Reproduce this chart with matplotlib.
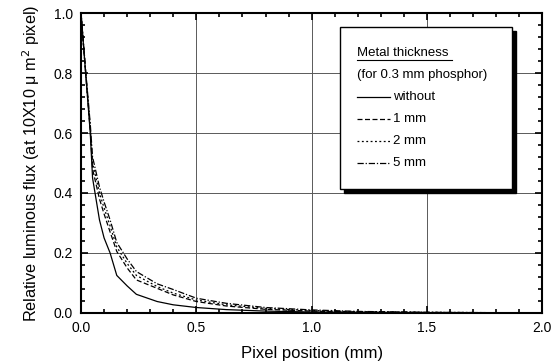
import matplotlib
matplotlib.use('Agg')
import matplotlib.pyplot as plt
from matplotlib.patches import Rectangle
from matplotlib.ticker import MultipleLocator

plt.rcParams['font.family'] = ['Liberation Sans', 'DejaVu Sans']

#----data----
x = [0, 0.02, 0.04, 0.05, 0.08, 0.1, 0.126, 0.155, 0.2, 0.24, 0.33, 0.4, 0.5, 0.63, 0.8, 1.0, 1.2, 1.5, 2.0]
y_without = [1.0, 0.80, 0.60, 0.45, 0.31, 0.25, 0.20, 0.125, 0.09, 0.062, 0.038, 0.027, 0.018, 0.011, 0.006, 0.003, 0.002, 0.001, 0.0]
y_1mm = [1.0, 0.80, 0.61, 0.48, 0.38, 0.33, 0.27, 0.205, 0.15, 0.11, 0.082, 0.06, 0.038, 0.023, 0.012, 0.006, 0.003, 0.0015, 0.0]
y_2mm = [1.0, 0.80, 0.62, 0.50, 0.40, 0.35, 0.29, 0.22, 0.165, 0.125, 0.088, 0.066, 0.043, 0.027, 0.015, 0.008, 0.004, 0.002, 0.0]
y_5mm = [1.0, 0.81, 0.63, 0.52, 0.42, 0.37, 0.31, 0.235, 0.18, 0.138, 0.097, 0.078, 0.049, 0.032, 0.018, 0.010, 0.005, 0.002, 0.0]

labels = ['without', '1 mm', '2 mm', '5 mm']
styles = ['-', (0, (4, 2)), (0, (1.5, 2)), (0, (5, 1.5, 1, 1.5))]

fig = plt.figure(figsize=(5.55, 3.63), dpi=100)
ax = fig.add_axes([0.146, 0.138, 0.831, 0.826])

for yy, ls in zip([y_without, y_1mm, y_2mm, y_5mm], styles):
    ax.plot(x, yy, color='black', linestyle=ls, linewidth=0.9)

ax.set_xlim(0, 2.0)
ax.set_ylim(0, 1.0)
ax.xaxis.set_major_locator(MultipleLocator(0.5))
ax.xaxis.set_minor_locator(MultipleLocator(0.1))
ax.yaxis.set_major_locator(MultipleLocator(0.2))
ax.yaxis.set_minor_locator(MultipleLocator(0.04))
ax.xaxis.set_major_formatter(matplotlib.ticker.FormatStrFormatter('%.1f'))
ax.yaxis.set_major_formatter(matplotlib.ticker.FormatStrFormatter('%.1f'))
ax.tick_params(which='both', direction='in', top=True, right=True, width=1.2, labelsize=10)
ax.tick_params(which='major', length=5, pad=6)
ax.tick_params(which='minor', length=3)
for s in ax.spines.values():
    s.set_linewidth(1.5)
ax.grid(True, which='major', color='0.35', linewidth=0.7)

ax.set_xlabel('Pixel position (mm)', fontsize=12, labelpad=8)
ax.set_ylabel('Relative luminous flux (at 10X10 μ m$^2$ pixel)', fontsize=11.7, labelpad=8)

# legend box with black shadow
ax.add_patch(Rectangle((0.571, 0.400), 0.373, 0.54, transform=ax.transAxes,
                       facecolor='black', edgecolor='black', zorder=5, clip_on=False))
ax.add_patch(Rectangle((0.562, 0.413), 0.373, 0.54, transform=ax.transAxes,
                       facecolor='white', edgecolor='black', linewidth=1.0, zorder=6, clip_on=False))
tx = 0.599
ax.text(tx, 0.867, 'Metal thickness', transform=ax.transAxes, fontsize=9.5, va='center', zorder=7)
ax.plot([tx, tx + 0.205], [0.843, 0.843], transform=ax.transAxes, color='black', lw=0.8, zorder=7)
ax.text(tx, 0.793, '(for 0.3 mm phosphor)', transform=ax.transAxes, fontsize=9.5, va='center', zorder=7)
for i, (lab, ls) in enumerate(zip(labels, styles)):
    yl = 0.720 - i * 0.073
    ax.plot([tx, tx + 0.07], [yl, yl], transform=ax.transAxes, color='black',
            linestyle=ls, lw=0.9, zorder=7)
    ax.text(tx + 0.077, yl, lab, transform=ax.transAxes, fontsize=9.5, va='center', zorder=7)

fig.savefig('out.png', dpi=100)
